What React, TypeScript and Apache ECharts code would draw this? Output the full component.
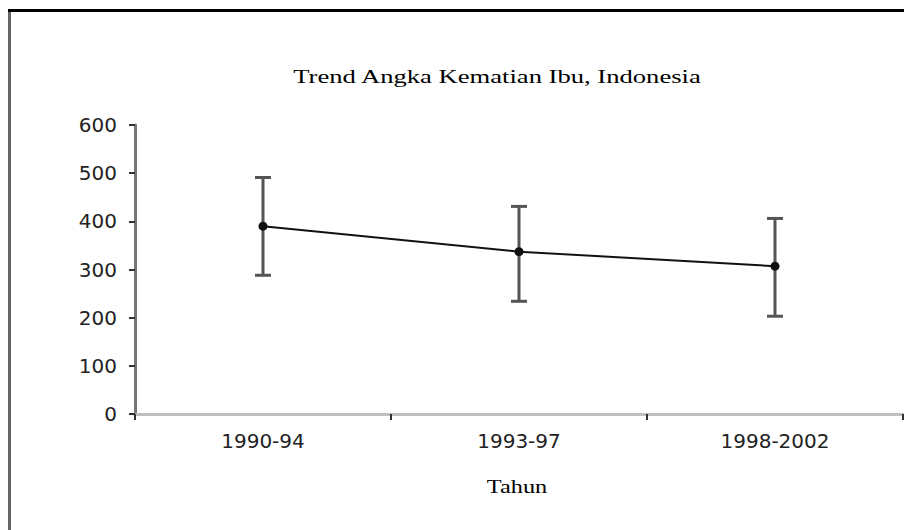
import React, { useEffect, useRef } from "react";
import * as echarts from "echarts";

const titleText = "Trend Angka Kematian Ibu, Indonesia";
const xAxisName = "Tahun";
const categories = ["1990-94", "1993-97", "1998-2002"];
const mmrValues = [390, 337, 307];
const lowerBounds = [288, 234, 203];
const upperBounds = [491, 431, 406];
const yTicks = { min: 0, max: 600, interval: 100 };

export default function App() {
  const ref = useRef<HTMLDivElement>(null);

  useEffect(() => {
    if (!ref.current) return;
    const chart = echarts.init(ref.current, null, { renderer: "svg" });

    const errorData = categories.map((_, i) => [i, lowerBounds[i], upperBounds[i]]);

    chart.setOption({
      animation: false,
      backgroundColor: "#ffffff",
      grid: { left: 135, right: 1, top: 125, bottom: 116, containLabel: false },
      graphic: [
        {
          type: "line",
          shape: { x1: 8, y1: 10.5, x2: 904, y2: 10.5 },
          style: { stroke: "#000000", lineWidth: 3 },
          silent: true,
        },
        {
          type: "line",
          shape: { x1: 9.5, y1: 12, x2: 9.5, y2: 530 },
          style: { stroke: "#666666", lineWidth: 3 },
          silent: true,
        },
        {
          type: "text",
          x: 497,
          y: 76,
          scaleX: 1.4,
          style: {
            text: titleText,
            font: "19px 'Liberation Serif', 'Times New Roman', serif",
            fill: "#000000",
            textAlign: "center",
            textVerticalAlign: "middle",
          },
          silent: true,
        },
        {
          type: "text",
          x: 517,
          y: 487,
          scaleX: 1.28,
          style: {
            text: xAxisName,
            font: "19px 'Liberation Serif', 'Times New Roman', serif",
            fill: "#000000",
            textAlign: "center",
            textVerticalAlign: "middle",
          },
          silent: true,
        },
      ],
      xAxis: {
        type: "category",
        data: categories,
        boundaryGap: true,
        axisLine: { show: true, lineStyle: { color: "#c0c0c0", width: 3 } },
        axisTick: { show: true, length: 6, lineStyle: { color: "#333333", width: 2 } },
        axisLabel: {
          margin: 17,
          fontFamily: "'DejaVu Sans', sans-serif",
          fontSize: 20,
          color: "#222222",
        },
        splitLine: { show: false },
      },
      yAxis: {
        type: "value",
        min: yTicks.min,
        max: yTicks.max,
        interval: yTicks.interval,
        axisLine: { show: true, lineStyle: { color: "#777777", width: 3 } },
        axisTick: { show: true, length: 6, lineStyle: { color: "#333333", width: 2 } },
        axisLabel: {
          margin: 18,
          fontFamily: "'DejaVu Sans', sans-serif",
          fontSize: 20,
          color: "#222222",
        },
        splitLine: { show: false },
      },
      series: [
        {
          type: "custom",
          name: "Interval",
          data: errorData,
          z: 2,
          renderItem: (params: any, api: any) => {
            const idx = api.value(0);
            const lo = api.coord([idx, api.value(1)]);
            const hi = api.coord([idx, api.value(2)]);
            const half = 8;
            const style = { stroke: "#555555", lineWidth: 3 };
            return {
              type: "group",
              children: [
                { type: "line", shape: { x1: lo[0], y1: lo[1], x2: hi[0], y2: hi[1] }, style },
                { type: "line", shape: { x1: hi[0] - half, y1: hi[1], x2: hi[0] + half, y2: hi[1] }, style },
                { type: "line", shape: { x1: lo[0] - half, y1: lo[1], x2: lo[0] + half, y2: lo[1] }, style },
              ],
            };
          },
        },
        {
          type: "line",
          name: "AKI",
          data: mmrValues,
          z: 3,
          symbol: "circle",
          symbolSize: 9,
          itemStyle: { color: "#111111" },
          lineStyle: { color: "#111111", width: 2 },
        },
      ],
    });

    return () => chart.dispose();
  }, []);

  return (
    <div
      ref={ref}
      style={{ position: "fixed", left: 0, top: 0, width: 904, height: 530 }}
    />
  );
}
